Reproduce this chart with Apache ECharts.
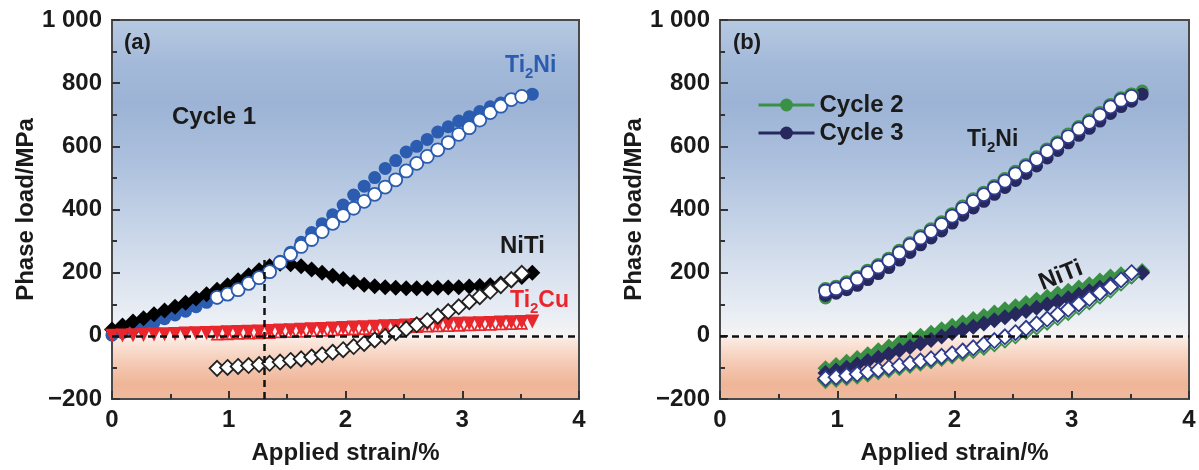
<!DOCTYPE html>
<html>
<head>
<meta charset="utf-8">
<script src="https://cdn.jsdelivr.net/npm/echarts@6/dist/echarts.min.js"></script>
<style>
html, body { margin: 0; padding: 0; background: #fff; }
#chart { width: 1199px; height: 470px; }
</style>
</head>
<body>
<div id="chart"></div>
<script>
// strain grids (%)
const strainLoadA = [0, 0.09, 0.18, 0.27, 0.36, 0.45, 0.54, 0.63, 0.72, 0.81, 0.9, 0.99, 1.08, 1.17, 1.26, 1.35, 1.44, 1.53, 1.62, 1.71, 1.8, 1.89, 1.98, 2.07, 2.16, 2.25, 2.34, 2.43, 2.52, 2.61, 2.7, 2.79, 2.88, 2.97, 3.06, 3.15, 3.24, 3.33, 3.42, 3.51, 3.6];
const strainLoadB = [0.9, 0.99, 1.08, 1.17, 1.26, 1.35, 1.44, 1.53, 1.62, 1.71, 1.8, 1.89, 1.98, 2.07, 2.16, 2.25, 2.34, 2.43, 2.52, 2.61, 2.7, 2.79, 2.88, 2.97, 3.06, 3.15, 3.24, 3.33, 3.42, 3.51, 3.6];
const strainUnload = [0.9, 0.99, 1.08, 1.17, 1.26, 1.35, 1.44, 1.53, 1.62, 1.71, 1.8, 1.89, 1.98, 2.07, 2.16, 2.25, 2.34, 2.43, 2.52, 2.61, 2.7, 2.79, 2.88, 2.97, 3.06, 3.15, 3.24, 3.33, 3.42, 3.51];

// (a) cycle 1, phase load / MPa
const ti2niLoad1 = [2, 10, 20, 30, 42, 54, 66, 78, 92, 106, 120, 134, 150, 167, 186, 208, 236, 265, 296, 327, 355, 383, 414, 446, 474, 501, 530, 555, 582, 600, 622, 645, 662, 680, 694, 710, 725, 737, 747, 756, 765];
const ti2niUnload1 = [122, 132, 146, 166, 184, 203, 232, 258, 283, 305, 330, 356, 381, 404, 426, 448, 471, 494, 522, 546, 568, 589, 612, 638, 659, 683, 707, 727, 748, 758];
const nitiLoad1 = [20, 33, 45, 56, 68, 80, 92, 105, 118, 132, 146, 160, 176, 192, 208, 220, 228, 227, 220, 210, 200, 190, 180, 170, 162, 157, 154, 152, 151, 151, 151, 152, 153, 154, 156, 158, 160, 166, 175, 186, 200];
const nitiUnload1 = [-103, -100, -97, -94, -91, -87, -83, -78, -73, -67, -60, -52, -44, -34, -24, -13, -2, 10, 22, 35, 48, 62, 77, 92, 108, 124, 141, 159, 178, 198];
const ti2cuLoad1 = [0, 1, 2, 3, 4, 5, 6, 7, 8, 9, 10, 11, 12, 13, 14, 15, 17, 18, 19, 21, 22, 23, 25, 26, 27, 29, 30, 31, 33, 34, 35, 36, 37, 38, 39, 40, 41, 42, 43, 44, 45];
const ti2cuUnload1 = [4, 5, 6, 7, 8, 9, 11, 12, 13, 15, 16, 17, 19, 20, 21, 23, 24, 25, 27, 28, 29, 30, 31, 32, 33, 34, 35, 36, 37, 38];

// (b) cycles 2 and 3
const ti2niLoad2 = [120, 140, 158, 176, 197, 217, 238, 263, 288, 312, 334, 357, 382, 406, 429, 451, 472, 494, 517, 540, 564, 589, 612, 636, 660, 681, 704, 730, 751, 765, 775];
const ti2niLoad3 = [128, 135, 146, 160, 178, 197, 216, 240, 264, 288, 310, 332, 357, 382, 405, 426, 448, 470, 492, 514, 538, 563, 587, 611, 635, 657, 680, 704, 726, 743, 765];
const ti2niUnload2 = [147, 154, 168, 185, 205, 223, 243, 268, 292, 315, 336, 358, 384, 408, 431, 452, 473, 495, 518, 540, 564, 589, 612, 636, 660, 681, 704, 730, 751, 763];
const ti2niUnload3 = [142, 149, 163, 180, 200, 218, 238, 263, 287, 310, 331, 353, 379, 403, 426, 447, 468, 490, 513, 535, 559, 584, 607, 631, 655, 676, 699, 725, 746, 758];
const nitiLoad2 = [-103, -92, -82, -70, -58, -46, -34, -22, -11, 0, 10, 21, 32, 42, 53, 63, 74, 84, 94, 104, 114, 124, 134, 143, 153, 163, 175, 188, 195, 200, 205];
const nitiLoad3 = [-118, -110, -101, -91, -80, -69, -58, -46, -35, -24, -13, -2, 9, 19, 29, 39, 49, 59, 69, 79, 89, 99, 109, 119, 130, 141, 152, 163, 175, 188, 200];
const nitiUnload2 = [-141, -137, -132, -127, -121, -114, -107, -100, -93, -86, -79, -71, -63, -55, -46, -36, -25, -13, 0, 14, 28, 43, 58, 74, 91, 108, 126, 145, 167, 190];
const nitiUnload3 = [-135, -131, -126, -121, -115, -108, -101, -94, -87, -80, -73, -65, -57, -48, -38, -27, -15, -3, 10, 24, 38, 53, 68, 84, 101, 118, 136, 155, 177, 200];

const yTicks = [-200, 0, 200, 400, 600, 800, 1000];

const FONT = '"Liberation Sans", Arial, sans-serif';
const TXT = '#1a1a1a';
const FRAME = '#4a4a4a';

const dom = document.getElementById('chart');
const myChart = echarts.init(dom, null, { renderer: 'canvas' });

function pairs(xs, ys) {
  return xs.map((x, i) => [x, ys[i]]);
}

// one marker series
function pts(name, g, xs, ys, symbol, size, fill, stroke, extra) {
  return Object.assign({
    name: name,
    type: 'scatter',
    xAxisIndex: g,
    yAxisIndex: g,
    data: pairs(xs, ys),
    symbol: symbol,
    symbolSize: size,
    itemStyle: { color: fill, borderColor: stroke, borderWidth: stroke ? 1.8 : 0, opacity: 1 },
    emphasis: { disabled: true },
    silent: true
  }, extra || {});
}

// plot background: blue above zero, peach below
const bg = new echarts.graphic.LinearGradient(0, 0, 0, 1, [
  { offset: 0, color: '#b8cae2' },
  { offset: 0.12, color: '#a3b9d9' },
  { offset: 0.22, color: '#9cb3d5' },
  { offset: 0.38, color: '#adc1de' },
  { offset: 0.52, color: '#c2d1e6' },
  { offset: 0.66, color: '#d8e1ee' },
  { offset: 0.78, color: '#eaeef5' },
  { offset: 0.833, color: '#f6f3f3' },
  { offset: 0.845, color: '#fbe7dd' },
  { offset: 0.9, color: '#f5cbb6' },
  { offset: 0.96, color: '#efb597' },
  { offset: 1, color: '#f0b99f' }
]);

function xAx(g) {
  return {
    gridIndex: g, type: 'value', min: 0, max: 4, interval: 1,
    name: 'Applied strain/%', nameLocation: 'middle', nameGap: 42,
    nameTextStyle: { fontFamily: FONT, fontSize: 24, fontWeight: 'bold', color: TXT },
    axisLine: { show: true, onZero: false, lineStyle: { color: FRAME, width: 2 } },
    axisTick: { inside: true, length: 8, lineStyle: { color: '#333', width: 2 } },
    minorTick: { show: true, splitNumber: 2, length: 5, lineStyle: { color: '#333', width: 2 } },
    splitLine: { show: false },
    axisLabel: { margin: 9, fontFamily: FONT, fontSize: 24, fontWeight: 'bold', color: TXT }
  };
}

function yAx(g) {
  return {
    gridIndex: g, type: 'value', min: yTicks[0], max: yTicks[yTicks.length - 1], interval: 200,
    name: 'Phase load/MPa', nameLocation: 'middle', nameGap: 74,
    nameTextStyle: { fontFamily: FONT, fontSize: 24, fontWeight: 'bold', color: TXT },
    axisLine: { show: true, onZero: false, lineStyle: { color: FRAME, width: 2 } },
    axisTick: { inside: true, length: 8, lineStyle: { color: '#333', width: 2 } },
    minorTick: { show: true, splitNumber: 2, length: 5, lineStyle: { color: '#333', width: 2 } },
    splitLine: { show: false },
    axisLabel: {
      margin: 10, fontFamily: FONT, fontSize: 24, fontWeight: 'bold', color: TXT,
      formatter: function (v) {
        if (v === 1000) return '1 000';
        if (v < 0) return '\u2212' + Math.abs(v);
        return String(v);
      }
    }
  };
}

const dashStyle = { color: '#111', width: 2.5, type: [7, 5] };

const BLUE = '#2b5cb0', RED = '#e8262b', GREEN = '#3a9146', NAVY = '#27285e', NAVYEDGE = '#2f3b8c';

const series = [
  // panel (a)
  pts('Ti2Ni loading', 0, strainLoadA, ti2niLoad1, 'circle', 13, BLUE),
  pts('NiTi loading', 0, strainLoadA, nitiLoad1, 'diamond', 16, '#000'),
  pts('Ti2Cu unloading', 0, strainUnload, ti2cuUnload1, 'triangle', 10, '#fff', RED),
  pts('Ti2Cu loading', 0, strainLoadA, ti2cuLoad1, 'triangle', 14, RED, null, { symbolRotate: 180 }),
  pts('Ti2Ni unloading', 0, strainUnload, ti2niUnload1, 'circle', 13, '#fff', BLUE),
  pts('NiTi unloading', 0, strainUnload, nitiUnload1, 'diamond', 15, '#fff', '#222', {
    markLine: {
      silent: true, symbol: 'none', label: { show: false }, lineStyle: dashStyle,
      data: [
        { yAxis: 0 },
        [{ coord: [1.3, -200] }, { coord: [1.3, 250] }]
      ]
    }
  }),
  // panel (b)
  {
    name: 'Cycle 2', type: 'line', z: 2, xAxisIndex: 1, yAxisIndex: 1,
    data: pairs(strainLoadB, ti2niLoad2), symbol: 'circle', symbolSize: 13, showSymbol: true,
    lineStyle: { width: 0, opacity: 0 }, itemStyle: { color: GREEN },
    emphasis: { disabled: true }, silent: true
  },
  {
    name: 'Cycle 3', type: 'line', z: 2, xAxisIndex: 1, yAxisIndex: 1,
    data: pairs(strainLoadB, ti2niLoad3), symbol: 'circle', symbolSize: 13, showSymbol: true,
    lineStyle: { width: 0, opacity: 0 }, itemStyle: { color: NAVY },
    emphasis: { disabled: true }, silent: true
  },
  pts('Ti2Ni unloading c2', 1, strainUnload, ti2niUnload2, 'circle', 13, '#fff', GREEN),
  pts('Ti2Ni unloading c3', 1, strainUnload, ti2niUnload3, 'circle', 13, '#fff', NAVYEDGE),
  pts('NiTi loading c2', 1, strainLoadB, nitiLoad2, 'diamond', 16, GREEN),
  pts('NiTi loading c3', 1, strainLoadB, nitiLoad3, 'diamond', 16, NAVY),
  pts('NiTi unloading c2', 1, strainUnload, nitiUnload2, 'diamond', 15, '#fff', GREEN),
  pts('NiTi unloading c3', 1, strainUnload, nitiUnload3, 'diamond', 15, '#fff', NAVYEDGE, {
    markLine: {
      silent: true, symbol: 'none', label: { show: false }, lineStyle: dashStyle,
      data: [{ yAxis: 0 }]
    }
  })
];

function label(x, y, text, color, size, extra) {
  return Object.assign({
    type: 'text', x: x, y: y, silent: true, z: 100,
    style: { text: text, fill: color, font: 'bold ' + size + 'px ' + FONT, textVerticalAlign: 'middle' }
  }, extra || {});
}

// chemical formula with a lowered subscript, built from measured pieces
const measureCtx = document.createElement('canvas').getContext('2d');
function textWidth(t, size) {
  measureCtx.font = 'bold ' + size + 'px ' + FONT;
  return measureCtx.measureText(t).width;
}
function chem(x, y, a, sub, b, color) {
  const w1 = textWidth(a, 23);
  const w2 = textWidth(sub, 15);
  const piece = (px, py, t, size) => ({
    type: 'text', x: x + px, y: y + py, silent: true, z: 100,
    style: { text: t, fill: color, font: 'bold ' + size + 'px ' + FONT, textVerticalAlign: 'top' }
  });
  return [piece(0, 0, a, 23), piece(w1, 12, sub, 15), piece(w1 + w2, 0, b, 23)];
}

const option = {
  animation: false,
  backgroundColor: '#fff',
  grid: [
    { left: 112, top: 20, width: 467, height: 381, show: true, backgroundColor: bg, borderColor: FRAME, borderWidth: 2 },
    { left: 720, top: 20, width: 469, height: 381, show: true, backgroundColor: bg, borderColor: FRAME, borderWidth: 2 }
  ],
  xAxis: [xAx(0), xAx(1)],
  yAxis: [yAx(0), yAx(1)],
  legend: {
    data: ['Cycle 2', 'Cycle 3'],
    left: 752, top: 88, orient: 'vertical',
    itemWidth: 56, itemHeight: 16, itemGap: 4,
    lineStyle: { width: 3, opacity: 1 },
    textStyle: { fontFamily: FONT, fontSize: 24, fontWeight: 'bold', color: TXT },
    selectedMode: false
  },
  graphic: [
    label(124, 43, '(a)', TXT, 22),
    label(172, 117, 'Cycle 1', TXT, 24),
    label(500, 246, 'NiTi', TXT, 24),
    label(733, 43, '(b)', TXT, 22),
    label(1040, 284, 'NiTi', TXT, 24, { rotation: 0.38 })
  ].concat(
    chem(505, 54, 'Ti', '2', 'Ni', BLUE),
    chem(510, 289, 'Ti', '2', 'Cu', RED),
    chem(967, 128, 'Ti', '2', 'Ni', TXT)
  ),
  series: series
};

myChart.setOption(option);
</script>
</body>
</html>
